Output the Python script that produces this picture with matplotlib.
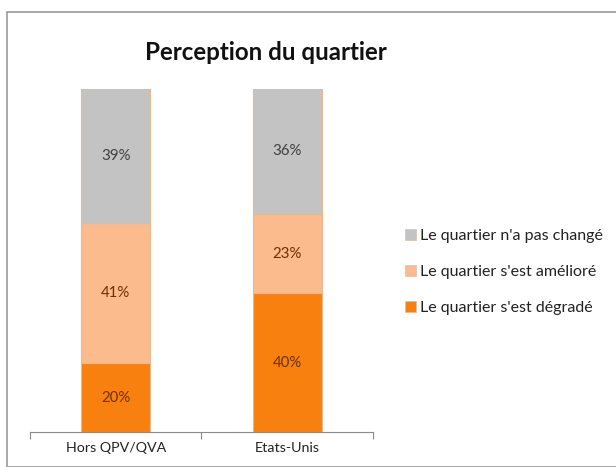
import matplotlib
matplotlib.use("Agg")
import matplotlib.pyplot as plt
from matplotlib.patches import Rectangle, Patch
import numpy as np

plt.rcParams['font.family'] = ['Lato', 'DejaVu Sans']

categories = ["Hors QPV/QVA", "Etats-Unis"]
series_names = ["Le quartier s'est dégradé", "Le quartier s'est amélioré", "Le quartier n'a pas changé"]
degrade = [20, 40]
ameliore = [41, 23]
inchange = [39, 36]
colors = ["#f7800f", "#fbbb8c", "#c3c3c3"]
label_colors = ["#6e3000", "#6e3000", "#404040"]

W, H = 616, 467
fig = plt.figure(figsize=(W / 100, H / 100), dpi=100)

# outer chart frame
fig.patches.append(Rectangle((7 / W, 0), 1.2, (H - 12) / H - 0, transform=fig.transFigure,
                             fill=False, edgecolor="#9a9a9a", lw=1.2))

ax = fig.add_axes([30 / W, (H - 432) / H, 343 / W, (432 - 89) / H])

series = [degrade, ameliore, inchange]
totals = np.sum(series, axis=0)
x = np.arange(len(categories))
bottom = np.zeros(len(categories))
for vals, col, lc in zip(series, colors, label_colors):
    pct = np.array(vals) / totals * 100
    ax.bar(x, pct, width=0.4, bottom=bottom, color=col, edgecolor="#e8b890", lw=0.8)
    for xi, b, p, v in zip(x, bottom, pct, vals):
        ax.text(xi, b + p / 2, f"{v}%", ha="center", va="center", fontsize=10.8, color=lc)
    bottom += pct

ax.set_xlim(-0.5, 1.5)
ax.set_ylim(0, 100)
for s in ["left", "top", "right"]:
    ax.spines[s].set_visible(False)
ax.spines["bottom"].set_color("#8a8a8a")
ax.set_yticks([])
ax.set_xticks([-0.5, 0.5, 1.5])
ax.set_xticklabels([])
ax.tick_params(axis="x", which="major", length=5, color="#8a8a8a", direction="out")
ax.set_xticks(x, minor=True)
ax.set_xticklabels(categories, minor=True, fontsize=10.3, color="#222222")
ax.tick_params(axis="x", which="minor", length=0, pad=7)

fig.text(266 / W, (H - 52) / H, "Perception du quartier", ha="center", va="center",
         fontsize=17.4, fontweight="bold", color="#111111")

handles = [Patch(facecolor=c, edgecolor="#d8c0b0", lw=0.5) for c in colors][::-1]
fig.legend(handles, series_names[::-1], loc="center left",
           bbox_to_anchor=(405 / W, (H - 272) / H), frameon=False, fontsize=11.5,
           handlelength=0.7, handleheight=0.7, handletextpad=0.25, labelspacing=1.35,
           borderpad=0, borderaxespad=0, labelcolor="#222222")

fig.savefig("out.png", dpi=100, facecolor="white")
